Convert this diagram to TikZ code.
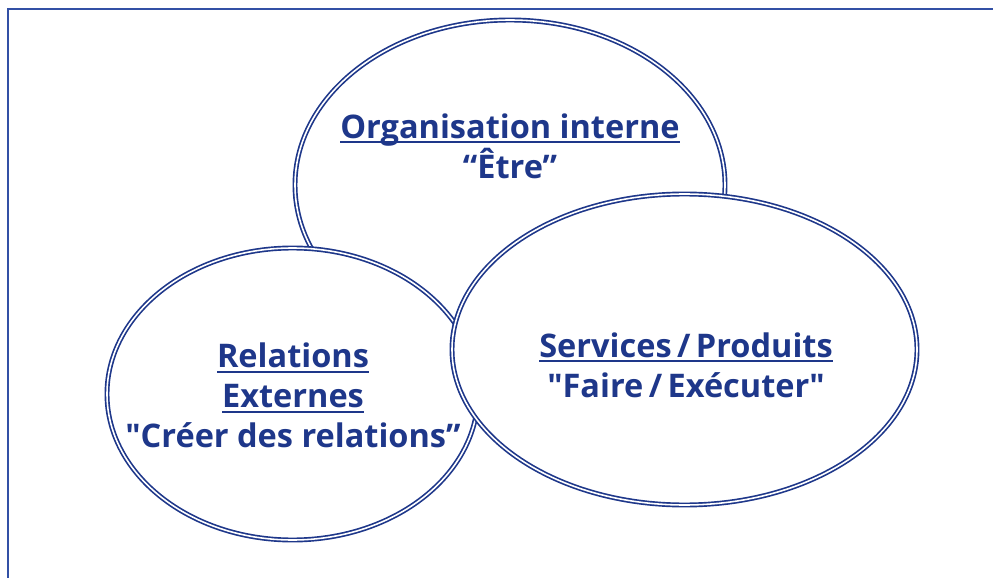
\documentclass[tikz,border=0pt]{standalone}
\usepackage{fontspec}
\setmainfont{Open Sans}
\usetikzlibrary{shapes.geometric}

\definecolor{navy}{RGB}{30,55,138}
\definecolor{framblue}{RGB}{50,80,165}

% Underline with a thicker bar
\newsavebox\ulbox
\newcommand\ulbar[1]{\sbox\ulbox{#1}\rlap{\rule[-2.8pt]{\wd\ulbox}{1.1pt}}\usebox\ulbox}

\tikzset{
    bubble/.style={
        ellipse,
        draw=navy,
        fill=white,
        line width=0.95pt,
        double=white,
        double distance=0.9pt
    },
    caption/.style={
        align=center,
        text=navy,
        font=\fontsize{18.5}{22.7}\selectfont\bfseries
    }
}

\begin{document}
\begin{tikzpicture}

% Page size and outer frame
\useasboundingbox (0,0) rectangle (19.86,11.54);
\clip (0,0) rectangle (19.86,11.54);
\draw
[
    draw=framblue,
    line width=1.3pt
] (0.16,11.36) rectangle (20.5,-1);

% Ellipses, back to front
\node[bubble, minimum width=8.6cm, minimum height=6.6cm] (etre) at (10.2,7.84) {};
\node[bubble, minimum width=7.42cm, minimum height=5.84cm] (relations) at (5.85,3.66) {};
\node[bubble, minimum width=9.3cm, minimum height=6.22cm] (services) at (13.69,4.55) {};

% Labels
\node[caption] (etrelbl) at (10.2,8.62)
    {\ulbar{Organisation interne}\\“Être”};
\node[caption] (relationslbl) at (5.86,3.63)
    {\ulbar{Relations}\\\ulbar{Externes}\\″Créer des relations”};
\node[caption] (serviceslbl) at (13.72,4.24)
    {\ulbar{Services\,/\,Produits}\\″Faire\,/\,Exécuter″};

\end{tikzpicture}
\end{document}
